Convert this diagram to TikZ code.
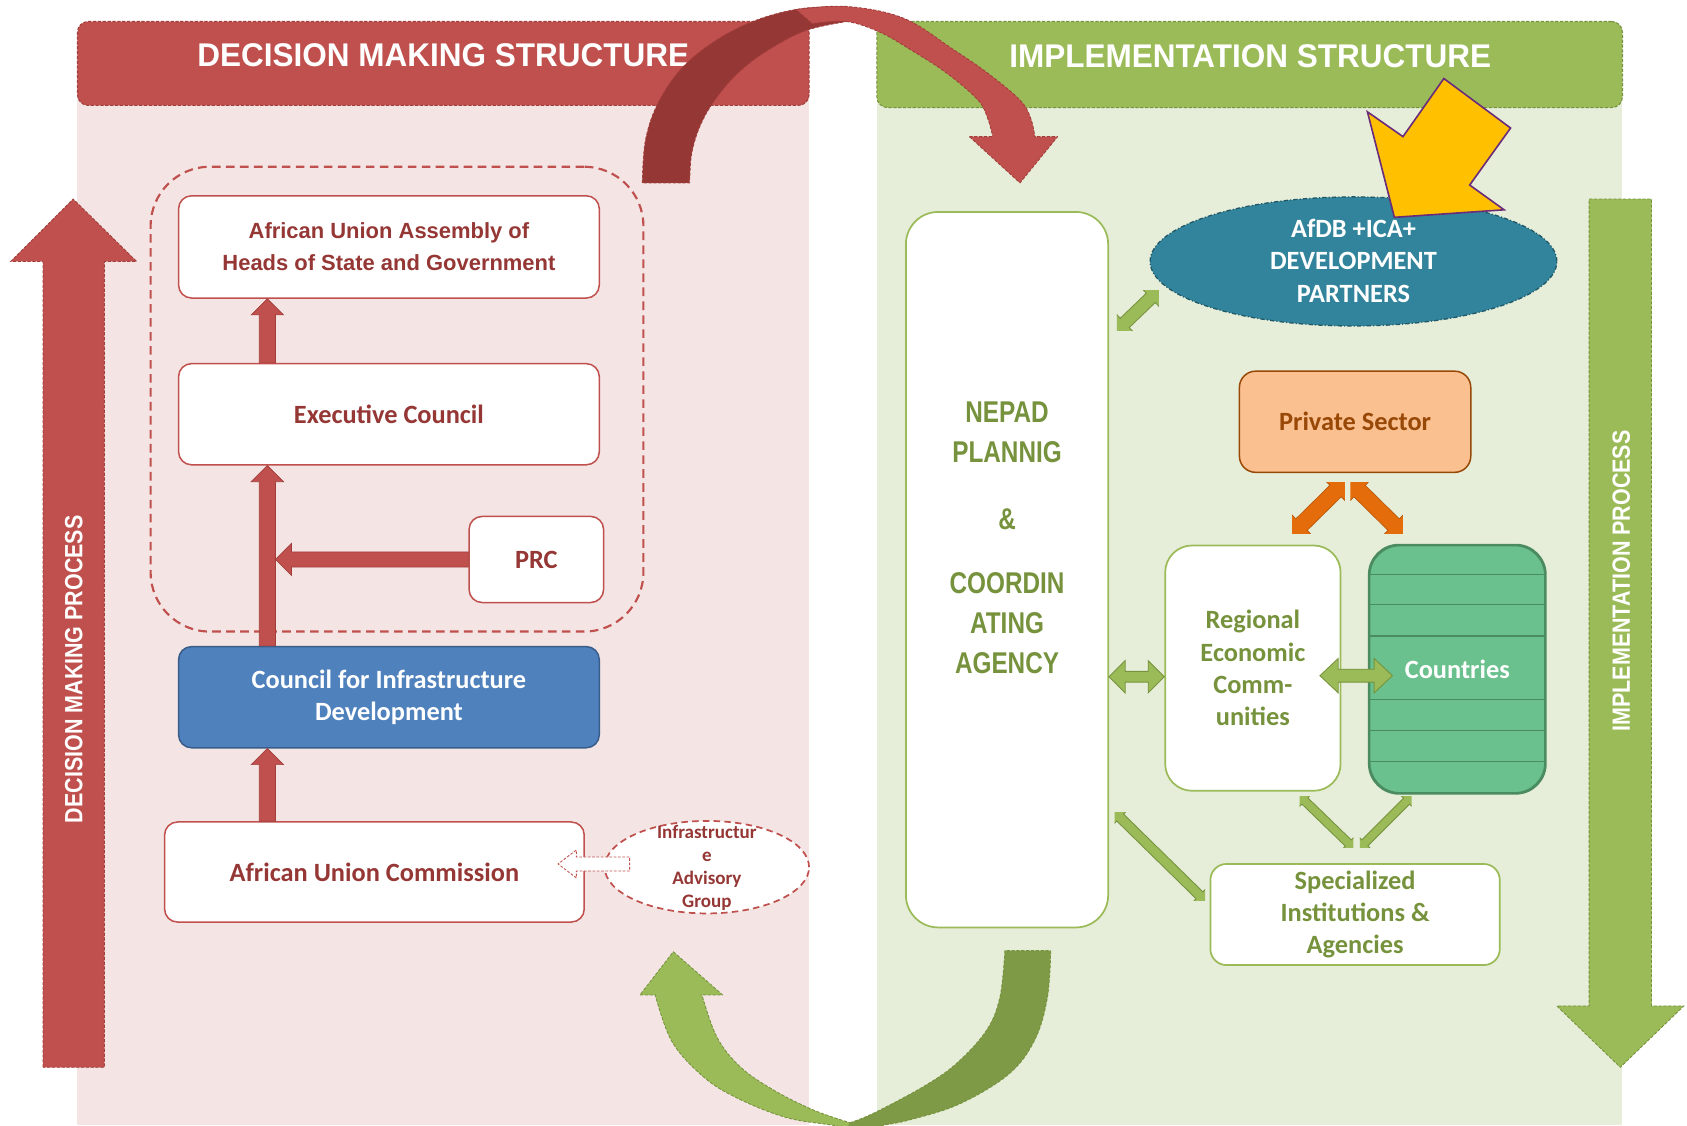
\documentclass[tikz,border=0pt]{standalone}
\usepackage{fontspec}
\setmainfont{Carlito}
\newfontfamily\titlefont{Liberation Sans}[FakeStretch=0.96]
\newfontfamily\procfont{Liberation Sans}[FakeStretch=0.86]
\newfontfamily\nepadfont{Liberation Sans}[FakeStretch=0.81]
\newfontfamily\asmfont{Liberation Sans}
\usetikzlibrary{shapes.geometric,calc}
\definecolor{red1}{HTML}{C0504D}
\definecolor{red2}{HTML}{A13E3B}
\definecolor{reddk}{HTML}{953735}
\definecolor{redtxt}{HTML}{953735}
\definecolor{pinkbg}{HTML}{F4E5E4}
\definecolor{greenbg}{HTML}{E6EDD8}
\definecolor{green1}{HTML}{9BBB59}
\definecolor{green2}{HTML}{76923C}
\definecolor{greendk}{HTML}{7E9A47}
\definecolor{blue1}{HTML}{4F81BD}
\definecolor{blue2}{HTML}{385D8A}
\definecolor{teal1}{HTML}{31849B}
\definecolor{teal2}{HTML}{205867}
\definecolor{orfill}{HTML}{FAC090}
\definecolor{orline}{HTML}{984807}
\definecolor{orarrow}{HTML}{E46C0A}
\definecolor{ctyfill}{HTML}{6AC18D}
\definecolor{ctyline}{HTML}{4A8C60}
\definecolor{yel}{HTML}{FFC000}
\definecolor{purp}{HTML}{6A2C7A}

% single block arrow: style, from, to, shaft half width, head half width, head length
\newcommand\blockarrow[6]{%
  \coordinate (ba-a) at (#2);
  \coordinate (ba-b) at (#3);
  \coordinate (ba-b1) at ($(ba-b)!#6!(ba-a)$);
  \filldraw[#1] ($(ba-a)!#4!90:(ba-b)$) -- ($(ba-b1)!#4!-90:(ba-a)$) -- ($(ba-b1)!#5!-90:(ba-a)$) -- (ba-b) -- ($(ba-b1)!#5!90:(ba-a)$) -- ($(ba-b1)!#4!90:(ba-a)$) -- ($(ba-a)!#4!-90:(ba-b)$) -- cycle;}
% double block arrow
\newcommand\dblarrow[6]{%
  \coordinate (da-a) at (#2);
  \coordinate (da-b) at (#3);
  \coordinate (da-a1) at ($(da-a)!#6!(da-b)$);
  \coordinate (da-b1) at ($(da-b)!#6!(da-a)$);
  \filldraw[#1] (da-a) -- ($(da-a1)!#5!90:(da-b)$) -- ($(da-a1)!#4!90:(da-b)$) -- ($(da-b1)!#4!-90:(da-a)$) -- ($(da-b1)!#5!-90:(da-a)$) -- (da-b) -- ($(da-b1)!#5!90:(da-a)$) -- ($(da-b1)!#4!90:(da-a)$) -- ($(da-a1)!#4!-90:(da-b)$) -- ($(da-a1)!#5!-90:(da-b)$) -- cycle;}

\tikzset{
  banner/.style={rounded corners=10pt, line width=1pt, dash pattern=on 3pt off 1.5pt, inner sep=0pt},
  titletxt/.style={font=\titlefont\bfseries\fontsize{30.5}{36}\selectfont, text=white, inner sep=0pt},
  proctxt/.style={font=\procfont\bfseries\fontsize{23.2}{28}\selectfont, text=white, inner sep=0pt},
  boxtxt/.style={font=\bfseries\fontsize{24.5}{30}\selectfont, align=center, inner sep=0pt},
  redbox/.style={draw=red1, line width=1.4pt, fill=white, rounded corners=12pt, boxtxt, text=redtxt},
  greenbox/.style={draw=green1, line width=1.6pt, fill=white, rounded corners=14pt, boxtxt, text=green2},
  redconn/.style={fill=red1, draw=red2, line width=0.6pt},
  greenconn/.style={fill=green1, draw=green2, line width=0.8pt},
  orconn/.style={fill=orarrow, draw=orarrow!80!black, line width=0.6pt},
  curveborder/.style={line width=0.8pt, dash pattern=on 3pt off 1.5pt, line join=round},
}

\begin{document}
\begin{tikzpicture}[x=1pt,y=-1pt]
\useasboundingbox (0,0) rectangle (1568,1046);

% panels
\fill[pinkbg] (72,60) rectangle (752,1046);
\fill[greenbg] (815,60) rectangle (1508,1046);
\node[banner, fill=red1, draw=red2, minimum width=680pt, minimum height=78pt] (lban) at (412,59) {};
\node[titletxt] (ltitle) at (412,51) {DECISION MAKING STRUCTURE};
\node[banner, fill=green1, draw=green2, minimum width=693pt, minimum height=80pt] (rban) at (1161.5,60) {};
\node[titletxt] (rtitle) at (1162,52) {IMPLEMENTATION STRUCTURE};

% process arrows
\filldraw[fill=red1, draw=red2, line width=0.8pt, dash pattern=on 3pt off 1.5pt]
  (40,992) -- (40,243) -- (10,243) -- (68,185) -- (127,243) -- (97,243) -- (97,992) -- cycle;
\node[proctxt, rotate=90] (dmp) at (68.5,622) {DECISION MAKING PROCESS};
\filldraw[fill=green1, draw=green2, line width=0.8pt, dash pattern=on 3pt off 1.5pt]
  (1477,185) -- (1535,185) -- (1535,935) -- (1565,935) -- (1506,992) -- (1447,935) -- (1477,935) -- cycle;
\node[proctxt, rotate=90] (ipr) at (1507,540) {IMPLEMENTATION PROCESS};

% decision group
\node[draw=red1, line width=2pt, dash pattern=on 8pt off 5pt, rounded corners=55pt,
      minimum width=458pt, minimum height=432pt] (grp) at (369,371) {};

% left boxes
\node[redbox, minimum width=391pt, minimum height=95pt,
      font=\asmfont\bfseries\fontsize{20.4}{30}\selectfont] (asm) at (361.5,229.5)
      {African Union Assembly of\\Heads of State and Government};
\node[redbox, minimum width=391pt, minimum height=94pt] (exec) at (361.5,385) {Executive Council};
\node[redbox, minimum width=125pt, minimum height=80pt] (prc) at (498.5,520) {PRC};
\node[redbox, draw=blue2, fill=blue1, text=white, minimum width=391pt, minimum height=94pt] (cid) at (361.5,648)
      {Council for Infrastructure\\Development};
\node[redbox, minimum width=390pt, minimum height=93pt] (auc) at (348,810.5) {African Union Commission};
\node[ellipse, draw=red1, fill=white, line width=1.6pt, dash pattern=on 6pt off 4pt,
      minimum width=190pt, minimum height=86pt, inner sep=0pt] (iag) at (657,806) {};
\node[boxtxt, text=redtxt, font=\bfseries\fontsize{17.7}{21.5}\selectfont] (iagt) at (657,806.5)
      {Infrastructur\\e\\Advisory\\Group};

% red connectors
\coordinate (spine) at (248.5,0);
\blockarrow{redconn}{spine |- auc.north}{spine |- cid.south}{7.5pt}{15pt}{15pt}
\blockarrow{redconn}{spine |- cid.north}{spine |- exec.south}{7.5pt}{15pt}{15pt}
\blockarrow{redconn}{spine |- exec.north}{spine |- asm.south}{7.5pt}{15pt}{15pt}
\blockarrow{redconn}{prc.west}{$(spine |- prc.west)+(7.5,0)$}{7pt}{15pt}{15pt}
\blockarrow{draw=red1, fill=white, line width=0.8pt, dash pattern=on 2.5pt off 1.5pt}{$(iag.west)+(24,-3)$}{$(auc.east)+(-25,-7.5)$}{6.5pt}{13pt}{17pt}

% right boxes
\node[greenbox, rounded corners=30pt, minimum width=188pt, minimum height=665pt] (nepad) at (936,529.5) {};
\node[boxtxt, text=green2, font=\nepadfont\bfseries\fontsize{27.9}{37}\selectfont] (nepadt) at (936,500)
      {NEPAD\\PLANNIG\\[25pt]\&\\[23pt]COORDIN\\ATING\\AGENCY};
\node[ellipse, fill=teal1, draw=teal2, line width=1.2pt, dash pattern=on 4pt off 2pt on 1pt off 2pt,
      minimum width=378pt, minimum height=120pt, inner sep=0pt] (afdb) at (1258,243) {};
\node[redbox, draw=orline, fill=orfill, text=orline, rounded corners=15pt, minimum width=215pt, minimum height=94pt] (priv) at (1259.5,392) {Private Sector};
\node[greenbox, rounded corners=25pt, minimum width=163pt, minimum height=228pt] (rec) at (1164.5,621)
      {Regional\\Economic\\Comm-\\unities};
\node[greenbox, draw=ctyline, fill=ctyfill, text=white, rounded corners=28pt, minimum width=163pt, minimum height=230pt] (cty) at (1354.5,622) {};
\begin{scope}
  \clip[rounded corners=28pt] (cty.south west) rectangle (cty.north east);
  \foreach \yy in {534,562,591,650,679,708}
    \draw[ctyline, line width=1.2pt] (1273,\yy) -- (1436,\yy);
\end{scope}
\draw[ctyline, line width=1.6pt, rounded corners=28pt] (cty.south west) rectangle (cty.north east);
\node[boxtxt, text=white] (ctyt) at (cty.center) {Countries};
\node[greenbox, rounded corners=15pt, minimum width=269pt, minimum height=94pt] (spec) at (1259.5,850)
      {Specialized\\Institutions \&\\Agencies};

% green connectors
\dblarrow{greenconn}{$(nepad.east)+(0,99.5)$}{$(rec.west)+(0,8)$}{5pt}{15pt}{15pt}
\dblarrow{greenconn}{$(rec.east)+(-20,7)$}{$(cty.west)+(22,6)$}{6pt}{16pt}{17pt}
\begin{scope}
  \clip (1038,270) rectangle (1077,307);
  \dblarrow{greenconn}{1031,314}{1084,263}{6pt}{16pt}{20pt}
\end{scope}
\begin{scope}
  \clip (1208,740) rectangle (1258,788);
  \dblarrow{greenconn}{1202,734}{1264,794}{4pt}{11pt}{15pt}
\end{scope}
\begin{scope}
  \clip (1264,740) rectangle (1312,788);
  \dblarrow{greenconn}{1318,734}{1258,794}{4pt}{11pt}{15pt}
\end{scope}
\begin{scope}
  \clip (1036,755) rectangle (1120,837);
  \dblarrow{greenconn}{1029,748}{1127,844}{4.5pt}{12pt}{17pt}
\end{scope}

% orange connectors
\begin{scope}
  \clip (1201,448) rectangle (1250,496);
  \dblarrow{orconn}{1194,503}{1257,441}{7.5pt}{19pt}{22pt}
\end{scope}
\begin{scope}
  \clip (1255,448) rectangle (1304,496);
  \dblarrow{orconn}{1248,441}{1311,503}{7.5pt}{19pt}{22pt}
\end{scope}

% yellow arrow
\filldraw[fill=yel, draw=purp, line width=1.5pt, line join=miter]
  (1342,73) -- (1404,119) -- (1366,172) -- (1398,195) -- (1296,202) -- (1271,104) -- (1304,127) -- cycle;
\node[boxtxt, text=white] (afdbt) at (1258,242.5) {AfDB +ICA+\\DEVELOPMENT\\PARTNERS};

% top curved arrow (red): dark rising back, light descending front, head
\filldraw[fill=reddk, draw=red2, curveborder]
  plot[smooth, tension=0.6] coordinates {(597,170) (600,130) (612,95) (635,62) (668,36) (705,18) (745,8) (787,6)}
  -- plot[smooth, tension=0.6] coordinates {(787,20) (750,28) (718,44) (690,64) (668,88) (652,114) (643,142) (641,170)}
  -- cycle;
\filldraw[fill=red1, draw=red2, curveborder]
  plot[smooth, tension=0.6] coordinates {(740,9) (787,6) (840,17) (886,46) (918,68) (948,93) (958,110) (962,128)}
  -- plot[smooth, tension=0.6] coordinates {(923,128) (918,110) (909,93) (880,68) (846,46) (818,30) (787,20) (755,22)}
  -- cycle;
\filldraw[fill=red1, draw=red2, curveborder] (901,127) -- (983,127) -- (948,170) -- cycle;
\fill[red1] (924,124) rectangle (961,130);

% bottom curved arrow (green): light rising front, dark back, head
\filldraw[fill=green1, draw=green2, curveborder]
  plot[smooth, tension=0.6] coordinates {(608.8,924) (624.5,968) (654,1001) (686,1021) (732,1039) (780.7,1047) (830,1058)}
  -- plot[smooth, tension=0.6] coordinates {(790,1043.5) (756,1031.7) (718.7,1013) (687.8,991.4) (666.1,963.5) (652.2,924)}
  -- cycle;
\filldraw[fill=greendk, draw=green2, curveborder]
  plot[smooth, tension=0.6] coordinates {(976.6,883.6) (973.5,927) (962,966) (938,998) (892,1026) (845,1041) (811.7,1048) (785,1058)}
  -- plot[smooth, tension=0.6] coordinates {(790,1043.5) (811.7,1034.8) (858.2,1010) (889.2,988.3) (917.1,957.4) (929.5,926.4) (934,883.6)}
  -- cycle;
\filldraw[fill=green1, draw=green2, curveborder] (594.8,924.8) -- (671.7,924.8) -- (625.8,884.6) -- cycle;
\fill[green1] (610,922) rectangle (651,928);
\end{tikzpicture}
\end{document}
